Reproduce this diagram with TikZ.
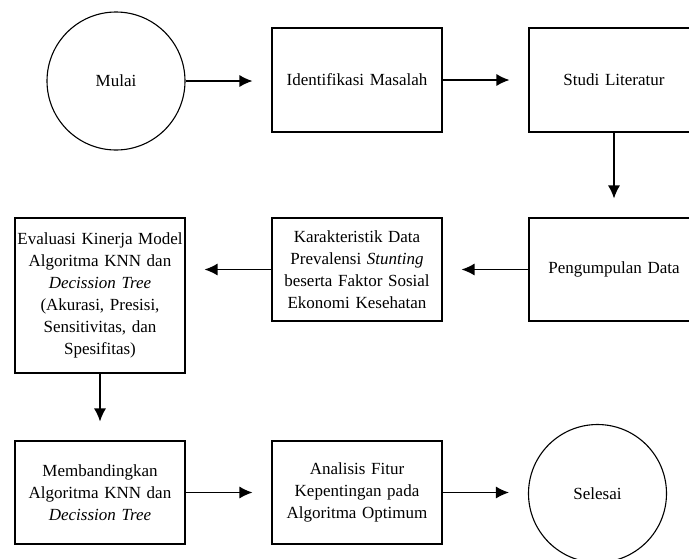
\documentclass[tikz,border=0pt]{standalone}
\usepackage{fontspec}
\setmainfont{Liberation Serif}
\usetikzlibrary{arrows.meta}

\begin{document}
\begin{tikzpicture}[x=1pt, y=-1pt, >={Latex[length=13pt,width=12pt]},
  every node/.style={font=\fontsize{17}{22}\selectfont},
  proses/.style={draw, line width=1.1pt, rectangle, minimum width=170pt,
    text width=168pt, inner xsep=1pt, align=center},
  terminal/.style={draw, line width=1.1pt, circle, minimum size=138pt},
  alur/.style={->, line width=1.2pt, shorten >=19pt}]

  \clip (0,0) rectangle (689,558);

  % =========================
  % baris 1
  % =========================
  \node[terminal] (mulai) at (116,81) {Mulai};
  \node[proses, minimum height=104pt] (identifikasi) at (357,80)
    {Identifikasi Masalah};
  \node[proses, minimum height=104pt] (studi) at (614,80)
    {Studi Literatur};

  % =========================
  % baris 2
  % =========================
  \node[proses, minimum height=103pt] (pengumpulan) at (614,269.5)
    {Pengumpulan Data};
  \node[proses, minimum height=103pt] (karakteristik) at (357,269.5)
    {Karakteristik Data\\
     Prevalensi \textit{Stunting}\\
     beserta Faktor Sosial\\
     Ekonomi Kesehatan};
  \node[proses, minimum height=155pt] (evaluasi) at (100,295.5)
    {Evaluasi Kinerja Model\\
     Algoritma KNN dan\\
     \textit{Decission Tree}\\
     (Akurasi, Presisi,\\
     Sensitivitas, dan\\
     Spesifitas)};

  % =========================
  % baris 3
  % =========================
  \node[proses, minimum height=103pt] (membandingkan) at (100,492.5)
    {Membandingkan\\
     Algoritma KNN dan\\
     \textit{Decission Tree}};
  \node[proses, minimum height=103pt] (analisis) at (357,492.5)
    {Analisis Fitur\\
     Kepentingan pada\\
     Algoritma Optimum};
  \node[terminal] (selesai) at (597.5,493.5) {Selesai};

  % alur
  \draw[alur] (mulai.east) -- (mulai.east -| identifikasi.west);
  \draw[alur] (identifikasi) -- (studi);
  \draw[alur] (studi) -- (pengumpulan);
  \draw[alur] (pengumpulan) -- (karakteristik);
  \draw[alur] (karakteristik.west) -- (karakteristik.west -| evaluasi.east);
  \draw[alur] (evaluasi) -- (membandingkan);
  \draw[alur] (membandingkan) -- (analisis);
  \draw[alur] (analisis.east) -- (analisis.east -| selesai.west);

\end{tikzpicture}
\end{document}
